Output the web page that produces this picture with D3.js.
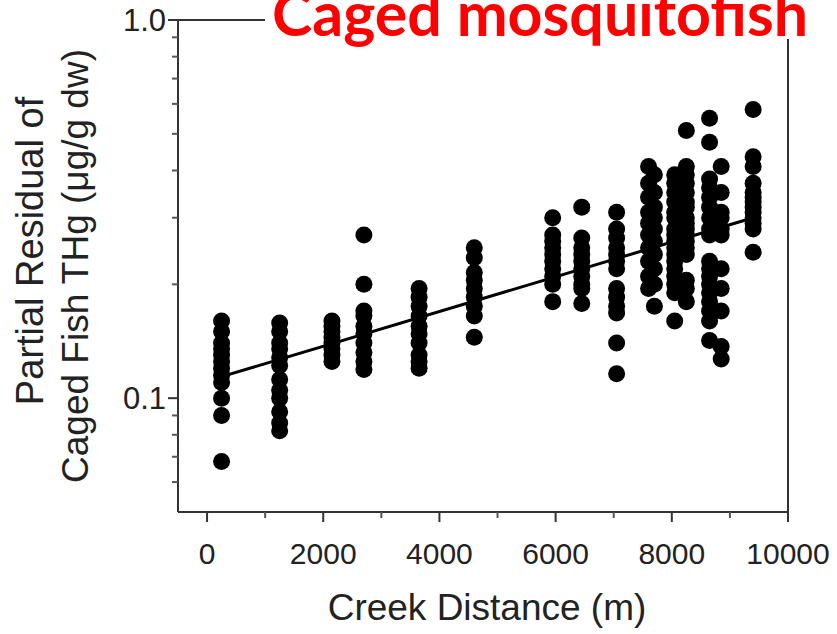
<!DOCTYPE html>
<html>
<head>
  <meta charset="utf-8">
<style>
  body { margin: 0; background: #fff; }
  svg { display: block; }
  .lbl { font-family: "Liberation Sans", Arial, sans-serif; fill: #222; }
</style>
<script src="https://d3js.org/d3.v7.min.js"></script>
</head>
<body>
<svg width="837" height="634"></svg>
<script>

  // creek distance (m) of each sampling column
  var distances = [250, 1250, 2150, 2700, 3650, 4600, 5950, 6450, 7050,
                   7600, 7700, 8050, 8250, 8650, 8850, 9400];

  // partial residuals of caged fish THg for each column
  var residuals = [
    [0.16, 0.15, 0.14, 0.135, 0.13, 0.125, 0.12, 0.115, 0.11, 0.10, 0.09, 0.068],
    [0.158, 0.15, 0.14, 0.135, 0.128, 0.122, 0.112, 0.105, 0.10, 0.092, 0.086, 0.082],
    [0.16, 0.155, 0.15, 0.145, 0.14, 0.135, 0.13, 0.125],
    [0.27, 0.20, 0.17, 0.165, 0.155, 0.148, 0.14, 0.132, 0.125, 0.119],
    [0.195, 0.185, 0.175, 0.165, 0.155, 0.148, 0.14, 0.13, 0.125, 0.12],
    [0.25, 0.235, 0.215, 0.205, 0.195, 0.185, 0.175, 0.165, 0.145],
    [0.30, 0.27, 0.26, 0.25, 0.24, 0.23, 0.22, 0.21, 0.20, 0.18],
    [0.32, 0.265, 0.25, 0.24, 0.23, 0.22, 0.21, 0.20, 0.195, 0.178],
    [0.31, 0.28, 0.265, 0.25, 0.24, 0.23, 0.22, 0.195, 0.185, 0.175, 0.168, 0.14, 0.116],
    [0.41, 0.37, 0.34, 0.31, 0.29, 0.27, 0.25, 0.23, 0.21, 0.195],
    [0.39, 0.35, 0.32, 0.30, 0.28, 0.26, 0.24, 0.22, 0.20, 0.175],
    [0.39, 0.37, 0.35, 0.33, 0.31, 0.30, 0.28, 0.27, 0.26, 0.25, 0.24, 0.23, 0.22, 0.21, 0.20, 0.19, 0.16],
    [0.51, 0.41, 0.39, 0.37, 0.35, 0.33, 0.32, 0.30, 0.29, 0.28, 0.27, 0.26, 0.25, 0.24, 0.205, 0.195, 0.18],
    [0.55, 0.475, 0.38, 0.36, 0.34, 0.32, 0.30, 0.28, 0.27, 0.23, 0.22, 0.21, 0.20, 0.19, 0.18, 0.17, 0.16, 0.142],
    [0.41, 0.35, 0.31, 0.30, 0.28, 0.27, 0.22, 0.195, 0.17, 0.137, 0.127],
    [0.58, 0.435, 0.41, 0.37, 0.35, 0.34, 0.33, 0.32, 0.31, 0.30, 0.29, 0.28, 0.243]
  ];

  // fitted trend (log scale) at the first and last column
  var fitX = [250, 9400];
  var fitY = [0.114, 0.30];

  var xMajor = [0, 2000, 4000, 6000, 8000, 10000];
  var xMinor = [1000, 3000, 5000, 7000, 9000];
  var yMajor = [0.1, 1.0];
  var yMinor = [0.06, 0.07, 0.08, 0.09, 0.2, 0.3, 0.4, 0.5, 0.6, 0.7, 0.8, 0.9];

  var svg = d3.select("svg");

  var x = d3.scaleLinear().domain([-500, 10000]).range([178, 788]);
  var y = d3.scaleLog().domain([0.05, 1]).range([512, 20]);

  var points = [];
  distances.forEach(function(d, i) {
    residuals[i].forEach(function(v) { points.push({x: d, y: v}); });
  });

  // frame
  var frame = svg.append("g").attr("stroke", "#333").attr("stroke-width", 2);
  frame.append("line").attr("x1", x(-500)).attr("x2", x(10000)).attr("y1", y(0.05)).attr("y2", y(0.05));
  frame.append("line").attr("x1", x(-500)).attr("x2", x(-500)).attr("y1", y(0.05)).attr("y2", y(1));
  frame.append("line").attr("x1", x(-500)).attr("x2", x(10000)).attr("y1", y(1)).attr("y2", y(1));
  frame.append("line").attr("x1", x(10000)).attr("x2", x(10000)).attr("y1", y(0.05)).attr("y2", y(1));

  // x ticks
  var xt = svg.append("g").attr("stroke", "#333").attr("stroke-width", 2);
  xt.selectAll(".maj").data(xMajor).enter().append("line")
      .attr("x1", function(d) { return x(d); }).attr("x2", function(d) { return x(d); })
      .attr("y1", y(0.05)).attr("y2", y(0.05) + 10);
  xt.selectAll(".min").data(xMinor).enter().append("line")
      .attr("stroke", "#555")
      .attr("x1", function(d) { return x(d); }).attr("x2", function(d) { return x(d); })
      .attr("y1", y(0.05)).attr("y2", y(0.05) + 6);
  svg.selectAll(".xl").data(xMajor).enter().append("text")
      .attr("class", "lbl")
      .attr("x", function(d) { return x(d); })
      .attr("y", 564)
      .attr("text-anchor", "middle")
      .attr("font-size", 30)
      .text(function(d) { return d; });

  // y ticks
  var yt = svg.append("g").attr("stroke", "#333").attr("stroke-width", 2);
  yt.selectAll(".maj").data(yMajor).enter().append("line")
      .attr("x1", x(-500) - 10).attr("x2", x(-500))
      .attr("y1", function(d) { return y(d); }).attr("y2", function(d) { return y(d); });
  yt.selectAll(".min").data(yMinor).enter().append("line")
      .attr("stroke", "#555")
      .attr("x1", x(-500) - 6).attr("x2", x(-500))
      .attr("y1", function(d) { return y(d); }).attr("y2", function(d) { return y(d); });
  svg.selectAll(".yl").data(yMajor).enter().append("text")
      .attr("class", "lbl")
      .attr("x", 166)
      .attr("y", function(d) { return y(d) + 11; })
      .attr("text-anchor", "end")
      .attr("font-size", 31)
      .text(function(d) { return d.toFixed(1); });

  // points
  svg.append("g").selectAll("circle").data(points).enter().append("circle")
      .attr("cx", function(d) { return x(d.x); })
      .attr("cy", function(d) { return y(d.y); })
      .attr("r", 8.5)
      .attr("fill", "#000");

  // trend line
  var line = d3.line()
      .x(function(d) { return x(d[0]); })
      .y(function(d) { return y(d[1]); });
  svg.append("path")
      .datum(d3.zip(fitX, fitY))
      .attr("fill", "none")
      .attr("stroke", "#000")
      .attr("stroke-width", 3)
      .attr("d", line);

  // axis titles
  svg.append("text")
      .attr("class", "lbl")
      .attr("x", 487).attr("y", 620)
      .attr("text-anchor", "middle")
      .attr("font-size", 37)
      .text("Creek Distance (m)");
  svg.append("text")
      .attr("class", "lbl")
      .attr("transform", "translate(43,251) rotate(-90)")
      .attr("text-anchor", "middle")
      .attr("font-size", 38)
      .text("Partial Residual of");
  svg.append("text")
      .attr("class", "lbl")
      .attr("transform", "translate(88,266) rotate(-90)")
      .attr("text-anchor", "middle")
      .attr("font-size", 37)
      .text("Caged Fish THg (\u03bcg/g dw)");

  // title, cut off at the top edge
  svg.append("rect").attr("x", 265).attr("y", 0).attr("width", 572).attr("height", 39).attr("fill", "#fff");
  svg.append("text")
      .attr("x", 272).attr("y", 36)
      .attr("textLength", 536)
      .attr("lengthAdjust", "spacingAndGlyphs")
      .style("font-family", "Lato, 'Open Sans', sans-serif")
      .style("font-weight", "bold")
      .style("font-size", "62px")
      .style("fill", "#ff0000")
      .text("Caged mosquitofish");

</script>
</body>
</html>
